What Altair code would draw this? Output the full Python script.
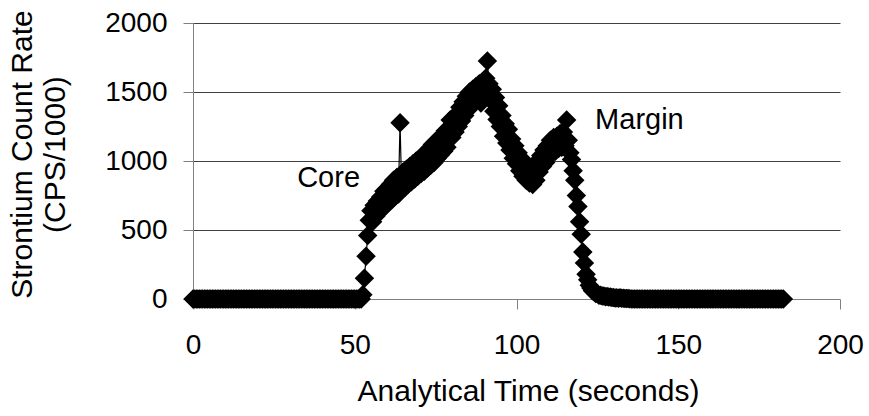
import altair as alt
import pandas as pd

FONT = "Liberation Sans"

# ---- data (time in seconds, Sr count rate in CPS/1000) ----
base1_t = [0, 0.5, 1, 1.5, 2, 2.5, 3, 3.5, 4, 4.5, 5, 5.5, 6, 6.5, 7, 7.5, 8, 8.5, 9, 9.5,
           10, 10.5, 11, 11.5, 12, 12.5, 13, 13.5, 14, 14.5, 15, 15.5, 16, 16.5, 17, 17.5,
           18, 18.5, 19, 19.5, 20, 20.5, 21, 21.5, 22, 22.5, 23, 23.5, 24, 24.5, 25, 25.5,
           26, 26.5, 27, 27.5, 28, 28.5, 29, 29.5, 30, 30.5, 31, 31.5, 32, 32.5, 33, 33.5,
           34, 34.5, 35, 35.5, 36, 36.5, 37, 37.5, 38, 38.5, 39, 39.5, 40, 40.5, 41, 41.5,
           42, 42.5, 43, 43.5, 44, 44.5, 45, 45.5, 46, 46.5, 47, 47.5, 48, 48.5, 49, 49.5,
           50, 50.5, 51, 51.5, 52]
base1_v = [0, 0, 0, 0, 0, 0, 0, 0, 0, 0, 0, 0, 0, 0, 0, 0, 0, 0, 0, 0,
           0, 0, 0, 0, 0, 0, 0, 0, 0, 0, 0, 0, 0, 0, 0, 0,
           0, 0, 0, 0, 0, 0, 0, 0, 0, 0, 0, 0, 0, 0, 0, 0,
           0, 0, 0, 0, 0, 0, 0, 0, 0, 0, 0, 0, 0, 0, 0, 0,
           0, 0, 0, 0, 0, 0, 0, 0, 0, 0, 0, 0, 0, 0, 0, 0,
           0, 0, 0, 0, 0, 0, 0, 0, 0, 0, 0, 0, 0, 0, 0, 0,
           0, 0, 0, 0, 0]

rise_t = [52.5, 53, 53.5, 54, 54.5, 55]
rise_v = [30, 150, 310, 460, 570, 640]

core_t = [55.5, 56, 56.5, 57, 57.5, 58, 58.5, 59, 59.5, 60,
          60.5, 61, 61.5, 62, 62.5, 63, 63.5, 64, 64.5, 65,
          65.5, 66, 66.5, 67, 67.5, 68, 68.5, 69, 69.5, 70,
          70.5, 71, 71.5, 72, 72.5, 73, 73.5, 74, 74.5, 75,
          75.5, 76, 76.5, 77, 77.5, 78, 78.5, 79, 79.5, 80,
          80.5, 81, 81.5, 82, 82.5, 83, 83.5, 84, 84.5, 85,
          85.5, 86, 86.5, 87, 87.5, 88, 88.5, 89, 89.5, 90]
core_v = [560, 680, 600, 710, 630, 740, 650, 780, 690, 800,
          700, 830, 720, 860, 745, 880, 760, 1277, 800, 920,
          810, 940, 830, 960, 850, 980, 870, 1000, 890, 1020,
          910, 1040, 925, 1060, 950, 1090, 970, 1120, 990, 1140,
          1020, 1160, 1045, 1190, 1070, 1220, 1100, 1240, 1297, 1170,
          1280, 1210, 1340, 1250, 1390, 1290, 1430, 1330, 1470, 1370,
          1500, 1400, 1520, 1420, 1540, 1450, 1560, 1420, 1575, 1470]

fall_t = [90.5, 91, 91.5, 92, 92.5, 93, 93.5, 94, 94.5, 95,
          95.5, 96, 96.5, 97, 97.5, 98, 98.5, 99, 99.5, 100,
          100.5, 101, 101.5, 102, 102.5, 103, 103.5, 104, 104.5, 105]
fall_v = [1600, 1725, 1560, 1440, 1520, 1360, 1460, 1300, 1400, 1250,
          1330, 1180, 1270, 1130, 1230, 1080, 1160, 1020, 1110, 980,
          1060, 930, 1020, 890, 980, 860, 960, 840, 920, 830]

margin_t = [105.5, 106, 106.5, 107, 107.5, 108, 108.5, 109, 109.5, 110,
            110.5, 111, 111.5, 112, 112.5, 113, 113.5, 114, 114.5, 115,
            115.5, 116]
margin_v = [960, 860, 1000, 920, 1040, 960, 1080, 990, 1110, 1030,
            1150, 1060, 1170, 1070, 1180, 1090, 1200, 1100, 1210, 1110,
            1297, 1150]

drop_t = [116.5, 117, 117.5, 118, 118.5, 119, 119.5, 120, 120.5, 121,
          121.5, 122, 122.5, 123, 123.5, 124, 124.5, 125, 125.5, 126,
          126.5, 127, 127.5, 128, 128.5, 129, 129.5, 130, 130.5, 131,
          131.5, 132, 132.5, 133, 133.5, 134, 134.5, 135]
drop_v = [1060, 1010, 930, 860, 750, 670, 560, 470, 340, 260,
          180, 140, 100, 80, 60, 52, 40, 38, 28, 28,
          22, 22, 17, 18, 14, 14, 10, 11, 8, 9,
          6, 9, 5, 6, 4, 4, 3, 2]

base2_t = [135.5, 136, 136.5, 137, 137.5, 138, 138.5, 139, 139.5, 140, 140.5, 141, 141.5,
           142, 142.5, 143, 143.5, 144, 144.5, 145, 145.5, 146, 146.5, 147, 147.5, 148,
           148.5, 149, 149.5, 150, 150.5, 151, 151.5, 152, 152.5, 153, 153.5, 154, 154.5,
           155, 155.5, 156, 156.5, 157, 157.5, 158, 158.5, 159, 159.5, 160, 160.5, 161,
           161.5, 162, 162.5, 163, 163.5, 164, 164.5, 165, 165.5, 166, 166.5, 167, 167.5,
           168, 168.5, 169, 169.5, 170, 170.5, 171, 171.5, 172, 172.5, 173, 173.5, 174,
           174.5, 175, 175.5, 176, 176.5, 177, 177.5, 178, 178.5, 179, 179.5, 180, 180.5,
           181, 181.5, 182, 182.5]
base2_v = [0, 0, 0, 0, 0, 0, 0, 0, 0, 0, 0, 0, 0,
           0, 0, 0, 0, 0, 0, 0, 0, 0, 0, 0, 0, 0,
           0, 0, 0, 0, 0, 0, 0, 0, 0, 0, 0, 0, 0,
           0, 0, 0, 0, 0, 0, 0, 0, 0, 0, 0, 0, 0,
           0, 0, 0, 0, 0, 0, 0, 0, 0, 0, 0, 0, 0,
           0, 0, 0, 0, 0, 0, 0, 0, 0, 0, 0, 0, 0,
           0, 0, 0, 0, 0, 0, 0, 0, 0, 0, 0, 0, 0,
           0, 0, 0, 0]

x_ticks = [0, 50, 100, 150, 200]
y_ticks = [0, 500, 1000, 1500, 2000]

note_text = ["Core", "Margin"]
note_x = [32.2, 124.3]
note_y = [812, 1232]

times = base1_t + rise_t + core_t + fall_t + margin_t + drop_t + base2_t
values = base1_v + rise_v + core_v + fall_v + margin_v + drop_v + base2_v
df = pd.DataFrame({"t": times, "sr": values})
notes = pd.DataFrame({"label": note_text, "t": note_x, "sr": note_y})

xscale = alt.Scale(domain=[0, 200], nice=False, zero=False)
yscale = alt.Scale(domain=[0, 2000], nice=False)

x_axis = alt.Axis(
    values=x_ticks, title="Analytical Time (seconds)", grid=False, format="d",
    labelFont=FONT, labelFontSize=28, labelColor="black", labelPadding=22,
    labelFlush=False, tickSize=10, tickColor="#808080", domainColor="#808080",
    titleFont=FONT, titleFontSize=30, titleFontWeight="normal", titleColor="black",
    titleBaseline="alphabetic", titleY=101, titleX=335, titleAlign="center",
)
y_axis = alt.Axis(
    values=y_ticks, title=["Strontium Count Rate", "(CPS/1000)"], grid=True, format="d",
    gridColor="#404040", gridWidth=1,
    gridOpacity=alt.condition("datum.value === 0", alt.value(0), alt.value(1)),
    labelFont=FONT, labelFontSize=28, labelColor="black", labelPadding=16,
    labelFlush=False, tickSize=10, tickColor="#808080", domainColor="#808080",
    titleFont=FONT, titleFontSize=30, titleFontWeight="normal", titleColor="black",
    titleAngle=270, titleBaseline="top", titleAlign="center",
    titleX=-186, titleY=131, titleLineHeight=33,
)

base = alt.Chart(df).encode(
    x=alt.X("t:Q", scale=xscale, axis=x_axis),
    y=alt.Y("sr:Q", scale=yscale, axis=y_axis),
)
line = base.mark_line(color="black", strokeWidth=1.2)
pts = base.mark_point(shape="diamond", filled=True, size=380, color="black", opacity=1)

labels = alt.Chart(notes).mark_text(
    font=FONT, fontSize=29, color="black", align="left", baseline="alphabetic"
).encode(
    x=alt.X("t:Q", scale=xscale),
    y=alt.Y("sr:Q", scale=yscale),
    text="label:N",
)

chart = alt.layer(line, pts, labels).properties(
    width=647, height=276,
    autosize=alt.AutoSizeParams(type="none"),
    padding={"left": 193, "top": 23, "right": 29, "bottom": 117},
    background="white",
).configure_view(stroke=None)

chart.save("out.html", embed_options={"renderer": "svg", "actions": False})
